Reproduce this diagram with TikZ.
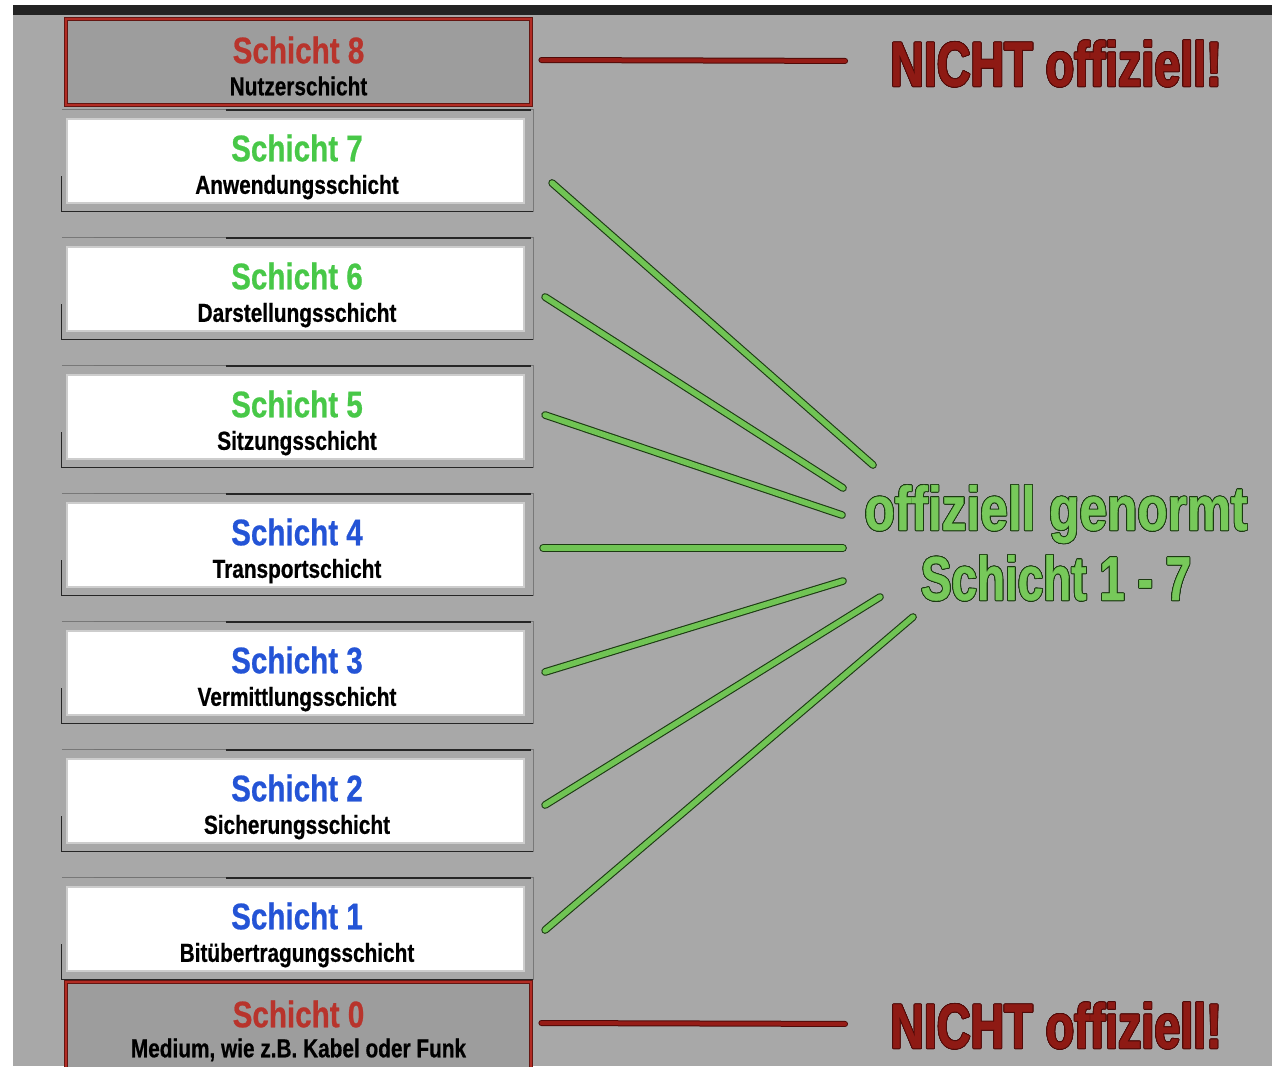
\documentclass[tikz,border=0pt]{standalone}
\usepackage{fontspec}
\usepackage{contour}
\contourlength{0.9pt}
\newfontfamily\condA{Liberation Sans Bold}[FakeStretch=0.8,FakeBold=0.6]
\newfontfamily\condB{Liberation Sans Bold}[FakeStretch=0.74,FakeBold=0.6]
\usetikzlibrary{calc}
\definecolor{bggray}{RGB}{168,168,168}
\definecolor{topbar}{RGB}{35,35,35}
\definecolor{redfill}{RGB}{157,157,157}
\definecolor{reddark}{RGB}{100,22,18}
\definecolor{redmid}{RGB}{178,44,36}
\definecolor{boxborder}{RGB}{205,205,205}
\definecolor{framegray}{RGB}{120,120,120}
\definecolor{ttlred}{RGB}{184,52,44}
\definecolor{ttlgreen}{RGB}{72,200,72}
\definecolor{ttlblue}{RGB}{36,84,214}
\definecolor{nichtred}{RGB}{142,26,20}
\definecolor{nichtdark}{RGB}{80,10,8}
\definecolor{lblgreen}{RGB}{119,201,90}
\definecolor{lbldark}{RGB}{28,58,18}
\definecolor{linegreen}{RGB}{112,196,84}
\definecolor{linered}{RGB}{150,28,22}
\newcommand{\boxdeco}[1]{%
  \draw[framegray, line width=0.9pt] ($(#1.north west)+(-4,-8)$) -- ($(#1.north east)+(8,-8)$) -- ($(#1.south east)+(8,8)$);
  \draw[black!55, line width=1.1pt] ($(#1.north west)+(28,-8)$) -- ($(#1.north west)+(160,-8)$);
  \draw[black!85, line width=1.2pt] ($(#1.north west)+(160,-8)$) -- ($(#1.north east)+(6,-8)$);
  \draw[black!85, line width=1.1pt] ($(#1.south west)+(-4,-28)$) -- ($(#1.south west)+(-4,7)$) -- ($(#1.south east)+(8,7)$);
}
\begin{document}
\begin{tikzpicture}[x=1pt,y=-1pt,
  whitebox/.style={draw=boxborder, line width=2.2pt, fill=white, minimum width=457pt, minimum height=84pt, inner sep=0pt},
  redbox/.style={draw=reddark, double=redmid, double distance=2.6pt, line width=0.8pt, fill=redfill, minimum width=465pt, minimum height=86pt, inner sep=0pt},
  ttl/.style={font=\condA\fontsize{37}{37}\selectfont, text height=26.5pt, text depth=0pt, inner sep=0pt},
  sub/.style={font=\condA\fontsize{26}{26}\selectfont, text=black, text height=18.6pt, text depth=0pt, inner sep=0pt},
  nicht/.style={font=\condB\fontsize{63}{63}\selectfont, text=nichtred, inner sep=0pt, anchor=base},
  lblA/.style={font=\condA\fontsize{62}{62}\selectfont, text=lblgreen, inner sep=0pt, anchor=base},
  lblB/.style={font=\condB\fontsize{62}{62}\selectfont, text=lblgreen, inner sep=0pt, anchor=base},
  gline/.style={draw=lbldark, double=linegreen, line width=1.1pt, double distance=5.5pt, line cap=round},
  rline/.style={draw=nichtdark, double=linered, line width=1pt, double distance=4pt, line cap=round}]
\useasboundingbox (0,0) rectangle (1272,1066);
\clip (0,0) rectangle (1272,1066);
% background
\fill[white] (0,0) rectangle (1272,1066);
\fill[bggray] (13,5) rectangle (1272,1066);
\fill[topbar] (13,5) rectangle (1272,15);

% red (unofficial) boxes
\node[redbox] (L8) at (298.5,62) {};
\node[redbox, minimum height=88pt] (L0) at (298.5,1026) {};
\node[ttl, text=ttlred] (T8) at (298.5,50) {Schicht 8};
\node[sub] (S8) at (298.5,86) {Nutzerschicht};
\node[ttl, text=ttlred] (T0) at (298.5,1014) {Schicht 0};
\node[sub] (S0) at (298.5,1048) {Medium, wie z.B. Kabel oder Funk};

% white boxes
\foreach \n/\cy/\col/\name in {7/161/ttlgreen/Anwendungsschicht,
                               6/289/ttlgreen/Darstellungsschicht,
                               5/417/ttlgreen/Sitzungsschicht,
                               4/545/ttlblue/Transportschicht,
                               3/673/ttlblue/Vermittlungsschicht,
                               2/801/ttlblue/Sicherungsschicht,
                               1/929/ttlblue/Bitübertragungsschicht}{
  \node[whitebox] (L\n) at (295.5,\cy) {};
  \boxdeco{L\n}
  \node[ttl, text=\col] (T\n) at (297,\cy-13) {Schicht \n};
  \node[sub] (S\n) at (297,\cy+23.5) {\name};
}

% labels
\node[nicht] (N8) at (1056,86) {\contour{nichtdark}{NICHT offiziell!}};
\node[nicht] (N0) at (1056,1048) {\contour{nichtdark}{NICHT offiziell!}};
\node[lblA] (G1) at (1056,530) {\contour{lbldark}{offiziell genormt}};
\node[lblB] (G2) at (1056,600) {\contour{lbldark}{Schicht 1 - 7}};

% red connectors
\draw[rline] ($(L8.east)+(10,-2)$) -- ($(N8.west)+(-45,-3)$);
\draw[rline] ($(L0.east)+(10,-3)$) -- ($(N0.west)+(-45,-2)$);

% green connectors
\coordinate (g7) at (873,465);
\coordinate (g6) at (843,488);
\coordinate (g5) at (842,515);
\coordinate (g4) at (843,548);
\coordinate (g3) at (843,581);
\coordinate (g2) at (880,597);
\coordinate (g1) at (913,617);
\draw[gline] ($(L7.east)+(27,22)$) -- (g7);
\draw[gline] ($(L6.east)+(20,8)$) -- (g6);
\draw[gline] ($(L5.east)+(20,-2)$) -- (g5);
\draw[gline] ($(L4.east)+(18,3)$) -- (g4);
\draw[gline] ($(L3.east)+(20,-1)$) -- (g3);
\draw[gline] ($(L2.east)+(20,4)$) -- (g2);
\draw[gline] ($(L1.east)+(20,1)$) -- (g1);
\end{tikzpicture}
\end{document}
